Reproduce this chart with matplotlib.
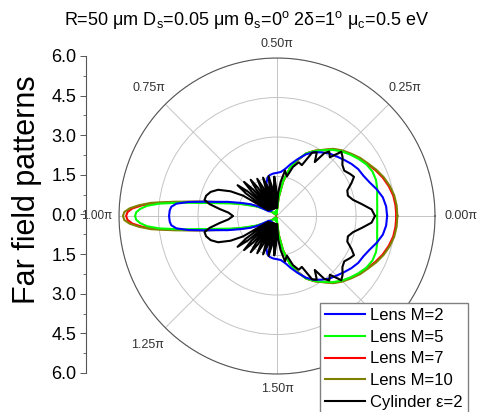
import numpy as np
import matplotlib
matplotlib.use('Agg')
import matplotlib.pyplot as plt

plt.rcParams['font.family'] = ['Liberation Sans', 'DejaVu Sans']
plt.rcParams['mathtext.default'] = 'regular'

# upper half of each pattern (angle in degrees 0..180), lower half is the mirror image
ang_m2 = [0, 5, 10, 15, 20, 25, 30, 35, 40, 45, 50, 55, 60, 65, 70, 75, 80, 85, 90, 95,
          100, 104, 108, 112, 116, 121, 126, 131, 136, 141, 146, 150, 153, 156, 160, 164,
          167, 169, 171, 173, 175, 177, 180]
r_m2 = [4.18, 4.16, 4.08, 3.92, 3.74, 3.62, 3.56, 3.45, 3.32, 3.2, 3.1, 2.95, 2.8, 2.58,
        2.3, 2.05, 1.82, 1.68, 1.64, 1.62, 1.58, 1.5, 1.3, 0.45, 1.1, 0.3, 0.95, 0.3, 0.85,
        0.3, 0.75, 0.35, 0.8, 1.1, 1.45, 1.95, 2.38, 2.85, 3.4, 3.85, 4.03, 4.08, 4.1]

ang_m5 = [0, 5, 10, 15, 20, 25, 30, 35, 40, 45, 50, 55, 60, 65, 70, 75, 80, 85, 90, 95,
          100, 105, 110, 115, 120, 125, 130, 135, 140, 145, 150, 155, 160, 162, 165, 167,
          169, 170.5, 172, 174, 175.5, 177, 178.5, 180]
r_m5 = [3.8, 3.82, 3.86, 3.94, 4.0, 4.0, 3.92, 3.78, 3.63, 3.47, 3.28, 3.05, 2.85, 2.62,
        2.28, 1.88, 1.35, 0.72, 0.2, 0.12, 0.2, 0.1, 0.18, 0.08, 0.15, 0.08, 0.15, 0.1, 0.22,
        0.35, 0.5, 0.85, 1.25, 1.48, 1.85, 2.15, 2.6, 3.0, 3.65, 4.5, 4.95, 5.2, 5.35, 5.39]

ang_m7 = [0, 5, 10, 15, 20, 25, 30, 35, 40, 45, 50, 55, 60, 65, 70, 75, 80, 85, 90, 95,
          100, 105, 110, 115, 120, 125, 130, 135, 140, 145, 150, 155, 160, 163, 166, 168,
          170, 172, 174, 175.5, 177, 178.5, 180]
r_m7 = [4.53, 4.52, 4.48, 4.39, 4.27, 4.12, 3.96, 3.82, 3.65, 3.49, 3.31, 3.06, 2.86, 2.62,
        2.25, 1.86, 1.33, 0.7, 0.25, 0.1, 0.17, 0.08, 0.15, 0.06, 0.12, 0.06, 0.12, 0.08, 0.2,
        0.34, 0.58, 0.92, 1.3, 1.65, 2.15, 2.55, 3.1, 3.8, 4.7, 5.15, 5.5, 5.68, 5.73]

ang_m10 = [0, 5, 10, 15, 20, 25, 30, 35, 40, 45, 50, 55, 60, 65, 70, 75, 80, 85, 90, 95,
           100, 105, 110, 115, 120, 125, 130, 135, 140, 145, 150, 155, 160, 163, 166, 168,
           170, 172, 174, 175.5, 177, 178.5, 180]
r_m10 = [4.57, 4.56, 4.52, 4.43, 4.31, 4.16, 3.99, 3.85, 3.68, 3.52, 3.33, 3.07, 2.86, 2.62,
         2.25, 1.86, 1.33, 0.7, 0.25, 0.1, 0.18, 0.08, 0.15, 0.06, 0.12, 0.06, 0.12, 0.08, 0.2,
         0.35, 0.6, 0.95, 1.35, 1.7, 2.2, 2.6, 3.15, 3.9, 4.8, 5.25, 5.6, 5.8, 5.85]

ang_cyl = [0, 4, 8, 12, 16, 20, 24, 27, 30, 34, 38, 42, 45, 48, 51, 53, 55, 58, 61, 64, 68,
           72, 76, 80, 84, 87,
           90, 92, 94, 96, 98, 100, 102, 104, 106, 108, 110, 112, 114, 116, 118, 120, 122,
           124, 126, 128, 130, 132, 134, 136, 138, 140, 142, 144, 146.5,
           149, 152, 156, 160, 164, 167.5, 170, 173, 176, 180]
r_cyl = [3.72, 3.6, 3.25, 2.95, 2.8, 2.84, 3.1, 3.28, 3.2, 3.08, 3.15, 3.35, 3.45, 3.0, 3.15,
         3.0, 2.5, 2.85, 2.75, 2.15, 2.2, 1.96, 1.55, 1.75, 1.3, 0.9,
         0.3, 1.1, 1.5, 1.1, 0.3, 1.15, 1.55, 1.15, 0.3, 1.15, 1.55, 1.15, 0.3, 1.2, 1.6,
         1.2, 0.3, 1.3, 1.7, 1.3, 0.35, 1.35, 1.8, 1.35, 0.35, 1.45, 1.9, 1.45, 0.4,
         1.5, 2.0, 2.45, 2.68, 2.8, 2.82, 2.6, 2.2, 1.85, 1.67]

labels = ['Lens M=2', 'Lens M=5', 'Lens M=7', 'Lens M=10', 'Cylinder ε=2']
colors = ['#0000ff', '#00ff00', '#ff0000', '#808000', '#000000']
zorders = [2.3, 2.2, 2.0, 2.1, 2.4]
theta_deg = [0, 45, 90, 135, 180, 225, 270]
theta_labels = ['0.00π', '0.25π', '0.50π', '0.75π', '1.00π', '1.25π', '1.50π']
theta_label_r = [7.0, 6.88, 6.55, 6.88, 6.84, 6.95, 6.57]
left_ticks = [-6, -4.5, -3, -1.5, 0, 1.5, 3, 4.5, 6]


def mirrored(ang, r):
    ang = np.array(ang, dtype=float)
    r = np.array(r, dtype=float)
    a = np.concatenate([ang, 360 - ang[::-1]])
    return np.deg2rad(a), np.concatenate([r, r[::-1]])


fig = plt.figure(figsize=(4.91, 4.12), dpi=100)
ax = fig.add_axes([0.2424, 0.0922, 0.6436, 0.767], projection='polar')

handles = []
data = [(ang_m2, r_m2), (ang_m5, r_m5), (ang_m7, r_m7), (ang_m10, r_m10), (ang_cyl, r_cyl)]
for (a, r), c, lab, z in zip(data, colors, labels, zorders):
    th, rr = mirrored(a, r)
    h, = ax.plot(th, rr, color=c, lw=1.5, label=lab, zorder=z)
    handles.append(h)

ax.set_ylim(0, 6)
ax.set_yticks([1.5, 3, 4.5, 6])
ax.set_yticklabels([])
ax.set_xticks(np.deg2rad(np.arange(0, 360, 45)))
ax.set_xticklabels([])
ax.set_xticks(np.deg2rad(np.arange(22.5, 360, 45)), minor=True)
ax.tick_params(axis='x', which='major', length=0)
ax.tick_params(axis='x', which='minor', length=3, width=0.6, color='#555555')
ax.grid(True, color='#c4c4c4', lw=0.7)
ax.spines['polar'].set_color('#555555')
ax.spines['polar'].set_linewidth(0.8)
for d, t, rr in zip(theta_deg, theta_labels, theta_label_r):
    ax.text(np.deg2rad(d), rr, t, ha='center', va='center',
            fontsize=8.5 if d == 180 else 9, color='#333333', clip_on=False)

# left linear axis
lax = fig.add_axes([0.1752, 0.0947, 0.0001, 0.7694])
lax.patch.set_visible(False)
for s in ['right', 'top', 'bottom']:
    lax.spines[s].set_visible(False)
lax.spines['left'].set_color('#555555')
lax.spines['left'].set_linewidth(0.8)
lax.set_ylim(-6, 6)
lax.set_yticks(left_ticks)
lax.set_yticklabels(['%.1f' % abs(v) for v in left_ticks])
lax.set_yticks(np.arange(-5.25, 6, 1.5), minor=True)
lax.set_xticks([])
lax.tick_params(axis='y', which='major', length=4, width=0.7, color='#555555', pad=3,
                labelsize=13)
lax.tick_params(axis='y', which='minor', length=2, width=0.6, color='#555555')

fig.text(0.055, 1 - 190 / 412, 'Far field patterns', rotation=90, fontsize=22,
         ha='center', va='center')
fig.text(0.503, 0.952, 'R=50 μm D$_s$=0.05 μm θ$_s$=0$^o$ 2δ=1$^o$ μ$_c$=0.5 eV',
         ha='center', va='center', fontsize=13)

fig.legend(handles, labels, loc='upper left', bbox_to_anchor=(320 / 491, 1 - 303 / 412),
           bbox_transform=fig.transFigure, fontsize=12, fancybox=False, framealpha=1,
           edgecolor='#808080', borderpad=0.3, labelspacing=0.4, handlelength=2.4,
           handletextpad=0.3, borderaxespad=0)

fig.savefig('out.png', dpi=100)
